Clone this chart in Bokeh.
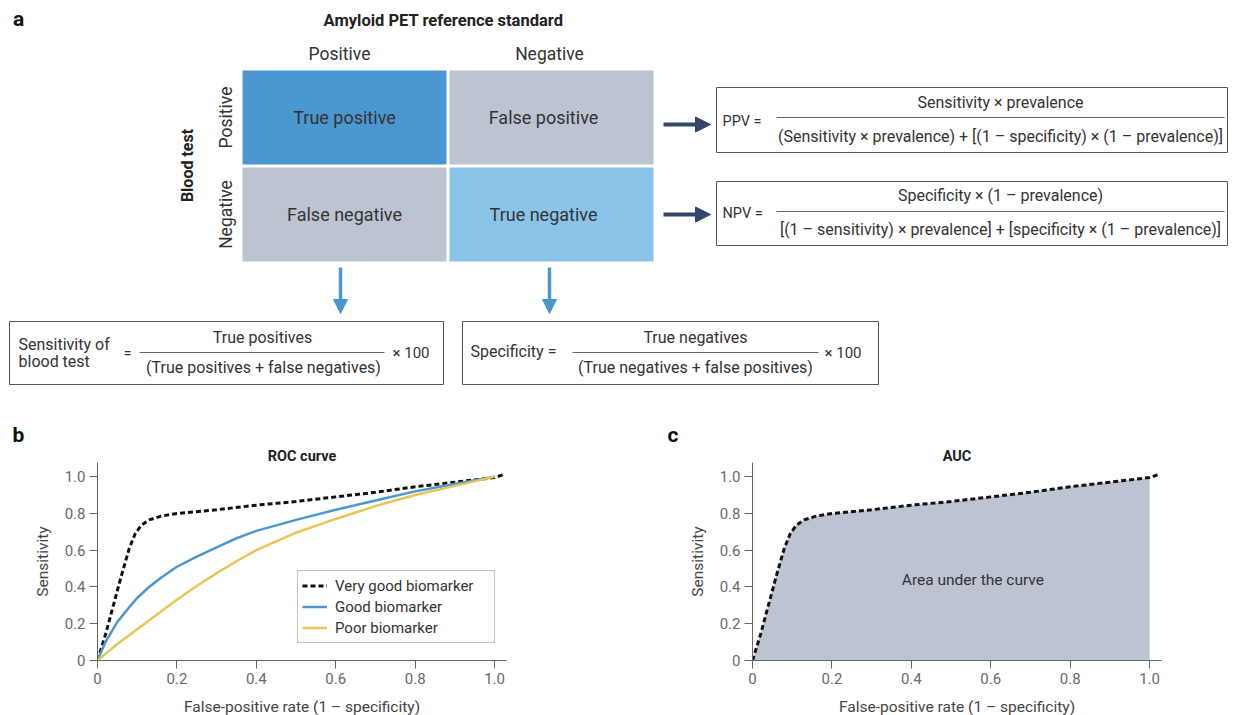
import numpy as np
from bokeh.plotting import figure
from bokeh.models import (Range1d, Arrow, NormalHead, Label, Legend, LegendItem,
                          FixedTicker, Title)
from bokeh.layouts import column, row
from bokeh.core.properties import value
from bokeh.embed import file_html
from bokeh.resources import INLINE

FONT = "Roboto"
TXT = "#333333"

# ---------------- data ----------------
col_labels = ["Positive", "Negative"]
row_labels = ["Positive", "Negative"]
cell_text = [["True positive", "False positive"], ["False negative", "True negative"]]
cell_colors = [["#4b97cf", "#bcc4d2"], ["#bcc4d2", "#8ac4e8"]]

ppv_num = "Sensitivity × prevalence"
ppv_den = "(Sensitivity × prevalence) + [(1 – specificity) × (1 – prevalence)]"
npv_num = "Specificity × (1 – prevalence)"
npv_den = "[(1 – sensitivity) × prevalence] + [specificity × (1 – prevalence)]"
sens_num = "True positives"
sens_den = "(True positives + false negatives)"
spec_num = "True negatives"
spec_den = "(True negatives + false positives)"

fpr_very_good = [0.0, 0.02, 0.04, 0.06, 0.08, 0.095, 0.11, 0.13, 0.16, 0.2, 0.3, 0.4, 0.5, 0.6, 0.7, 0.8, 0.9, 1.0, 1.02]
sens_very_good = [0.0, 0.14, 0.3, 0.46, 0.61, 0.69, 0.735, 0.765, 0.785, 0.8, 0.82, 0.845, 0.865, 0.89, 0.915, 0.945, 0.97, 0.995, 1.01]
fpr_good = [0.0, 0.02, 0.05, 0.08, 0.1, 0.13, 0.16, 0.2, 0.25, 0.3, 0.35, 0.4, 0.5, 0.6, 0.7, 0.8, 0.9, 1.0]
sens_good = [0.0, 0.1, 0.21, 0.29, 0.34, 0.4, 0.45, 0.51, 0.565, 0.615, 0.665, 0.705, 0.765, 0.82, 0.87, 0.92, 0.96, 1.0]
fpr_poor = [0.0, 0.05, 0.1, 0.15, 0.2, 0.25, 0.3, 0.35, 0.4, 0.5, 0.6, 0.7, 0.8, 0.9, 1.0]
sens_poor = [0.0, 0.09, 0.17, 0.25, 0.33, 0.405, 0.475, 0.54, 0.6, 0.695, 0.77, 0.84, 0.9, 0.95, 1.0]

fpr_auc = fpr_very_good[:-1]
sens_auc = sens_very_good[:-1]

tick_vals = [0, 0.2, 0.4, 0.6, 0.8, 1.0]
tick_text = ["0", "0.2", "0.4", "0.6", "0.8", "1.0"]

legend_names = ["Very good biomarker", "Good biomarker", "Poor biomarker"]

# ---------------- panel a (diagram) ----------------
WA, HA = 1237, 408
pa = figure(width=WA, height=HA, x_range=Range1d(0, WA), y_range=Range1d(HA, 0),
            output_backend="svg", toolbar_location=None, x_axis_type=None, y_axis_type=None,
            min_border=0)
pa.outline_line_color = None
pa.background_fill_color = "white"


def txt(p, x, y, s, size="15px", align="center", base="middle", bold=False, angle=0, color=TXT):
    p.text(x=[x], y=[y], text=[s], text_align=align, text_baseline=base,
           text_font_size=size, text_color=color, text_font=value(FONT),
           text_font_style="bold" if bold else "normal", angle=angle)


col_edges = [(242, 446), (449, 653)]
row_edges = [(70, 164), (167, 261)]
col_text_x = [344, 543]
col_head_x = [339, 549]
left, right, top, bottom, colors = [], [], [], [], []
for i in range(2):
    for j in range(2):
        left.append(col_edges[j][0]); right.append(col_edges[j][1])
        top.append(row_edges[i][0]); bottom.append(row_edges[i][1])
        colors.append(cell_colors[i][j])
pa.quad(left=left, right=right, top=top, bottom=bottom, fill_color=colors, line_color=None)
for i in range(2):
    for j in range(2):
        cy = (row_edges[i][0] + row_edges[i][1]) / 2
        txt(pa, col_text_x[j], cy, cell_text[i][j], size="18px")

txt(pa, 18, 18, "a", size="21px", bold=True, color="#111111")
txt(pa, 443, 20, "Amyloid PET reference standard", size="16.5px", bold=True, color="#222222")
for j in range(2):
    txt(pa, col_head_x[j], 53, col_labels[j], size="17.5px")
for i in range(2):
    cy = (row_edges[i][0] + row_edges[i][1]) / 2
    txt(pa, 225, cy, row_labels[i], size="17.5px", angle=np.pi / 2)
txt(pa, 187, 165, "Blood test", size="16px", bold=True, angle=np.pi / 2, color="#222222")

NAVY = "#34476a"
BLUE = "#4a97cf"
for yy in [124, 214]:
    pa.add_layout(Arrow(end=NormalHead(size=15, fill_color=NAVY, line_color=NAVY),
                        x_start=663, x_end=710, y_start=yy, y_end=yy,
                        line_color=NAVY, line_width=4))
for xx in [340, 549]:
    pa.add_layout(Arrow(end=NormalHead(size=14, fill_color=BLUE, line_color=BLUE),
                        x_start=xx, x_end=xx, y_start=267, y_end=313,
                        line_color=BLUE, line_width=3.5))

# boxes
bl = [716, 716, 9, 462]
br = [1227, 1227, 443, 878]
bt = [87, 181, 321, 321]
bb = [152, 245, 384, 384]
pa.quad(left=bl, right=br, top=bt, bottom=bb, fill_color=None, line_color="#555555", line_width=1)

# fraction lines
pa.segment(x0=[776, 776, 139, 572], x1=[1224, 1224, 384, 818], y0=[117, 211, 352, 352],
           y1=[117, 211, 352, 352], line_color="#666666", line_width=1)

FS = "16px"
txt(pa, 722, 121, "PPV =", size="14.5px", align="left")
txt(pa, 1000, 102, ppv_num, size=FS)
txt(pa, 1000, 136, ppv_den, size=FS)
txt(pa, 722, 213, "NPV =", size="14.5px", align="left")
txt(pa, 1000, 195, npv_num, size=FS)
txt(pa, 1000, 229, npv_den, size=FS)

txt(pa, 18, 344, "Sensitivity of", size=FS, align="left")
txt(pa, 18, 361, "blood test", size=FS, align="left")
txt(pa, 127, 352, "=", size="14px")
txt(pa, 262, 337, sens_num, size=FS)
txt(pa, 263, 367, sens_den, size=FS)
txt(pa, 392, 352, "× 100", size="15px", align="left")

txt(pa, 470, 351, "Specificity =", size=FS, align="left")
txt(pa, 695, 337, spec_num, size=FS)
txt(pa, 695, 367, spec_den, size=FS)
txt(pa, 824, 352, "× 100", size="15px", align="left")

# ---------------- panels b and c ----------------
XMAX, YMAX = 1.03, 1.077


def roc_fig(width, bl_, br_, title, title_offset, letter, letter_offset):
    p = figure(width=width, height=307, frame_width=409, frame_height=198,
               x_range=Range1d(0, XMAX), y_range=Range1d(0, YMAX),
               output_backend="svg", toolbar_location=None,
               min_border_left=bl_, min_border_right=br_, min_border_top=54, min_border_bottom=55)
    p.title = None
    p.outline_line_color = None
    p.grid.visible = False
    for ax in (p.xaxis[0], p.yaxis[0]):
        ax.ticker = FixedTicker(ticks=tick_vals)
        ax.major_label_overrides = {v: t for v, t in zip(tick_vals, tick_text)}
        ax.minor_tick_line_color = None
        ax.major_tick_in = 0
        ax.major_tick_out = 8
        ax.axis_line_color = "#666666"
        ax.major_tick_line_color = "#666666"
        ax.major_label_text_color = "#6a6a6a"
        ax.major_label_text_font = FONT
        ax.major_label_text_font_size = "15px"
        ax.major_label_text_font_style = "normal"
        ax.axis_label_text_font = FONT
        ax.axis_label_text_font_size = "15.5px"
        ax.axis_label_text_font_style = "normal"
        ax.axis_label_text_color = "#444444"
    p.xaxis[0].axis_label = "False-positive rate (1 – specificity)"
    p.xaxis[0].axis_label_standoff = 11
    p.xaxis[0].major_label_standoff = 4
    p.yaxis[0].axis_label = "Sensitivity"
    p.yaxis[0].axis_label_standoff = 10
    p.yaxis[0].major_label_standoff = 4
    p.add_layout(Title(text=title, align="center", offset=title_offset, standoff=-4,
                       text_font=FONT, text_font_size="14.5px", text_font_style="bold",
                       text_color="#222222"), "above")
    p.add_layout(Title(text=letter, align="left", offset=letter_offset, standoff=2,
                       text_font=FONT, text_font_size="21px", text_font_style="bold",
                       text_color="#111111"), "above")
    return p


pb = roc_fig(640, 97, 134, "ROC curve", 10, "b", -85)
r_vg = pb.line(fpr_very_good, sens_very_good, line_color="#111111", line_width=3, line_dash="5 3")
r_g = pb.line(fpr_good, sens_good, line_color="#4c98cc", line_width=2.5)
r_p = pb.line(fpr_poor, sens_poor, line_color="#e9c457", line_width=2.5)
leg = Legend(items=[LegendItem(label=legend_names[0], renderers=[r_vg]),
                    LegendItem(label=legend_names[1], renderers=[r_g]),
                    LegendItem(label=legend_names[2], renderers=[r_p])],
             location=(200, 17), border_line_color="#888888", border_line_width=1,
             label_text_font=FONT, label_text_font_size="15px", label_text_color="#333333",
             glyph_width=25, glyph_height=21, label_height=21, label_standoff=8,
             label_width=155, spacing=0, padding=4, margin=0, background_fill_alpha=1)
pb.add_layout(leg)

pc = roc_fig(597, 112, 74, "AUC", 11, "c", -85)
pc.varea(x=fpr_auc, y1=[0] * len(fpr_auc), y2=sens_auc, fill_color="#bcc4d2")
pc.line(fpr_very_good, sens_very_good, line_color="#111111", line_width=3, line_dash="5 3")
pc.add_layout(Label(x=0.555, y=0.44, text="Area under the curve", text_align="center",
                    text_baseline="middle", text_font=FONT, text_font_size="15.5px",
                    text_color="#333333"))

layout = column(pa, row(pb, pc))
open("out.html", "w").write(file_html(layout, INLINE))
